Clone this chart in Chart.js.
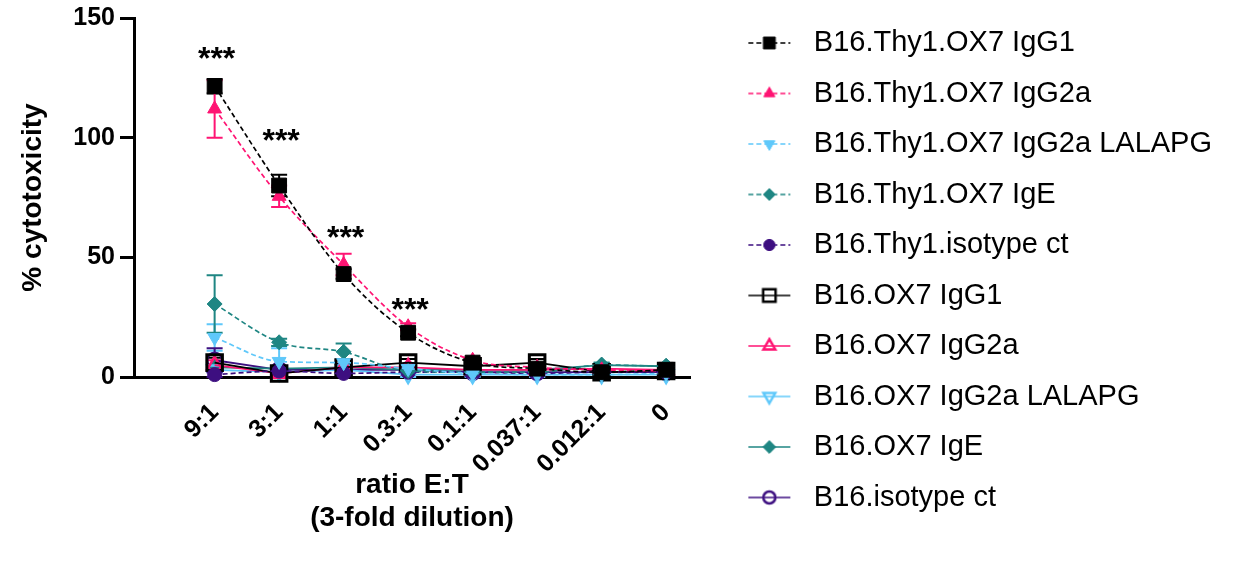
<!DOCTYPE html>
<html>
<head>
<meta charset="utf-8">
<script src="https://cdn.jsdelivr.net/npm/chart.js@4/dist/chart.umd.min.js"></script>
<style>
  html, body { margin: 0; padding: 0; background: #fff; }
  #wrap { width: 1238px; height: 564px; }
</style>
</head>
<body>
<div id="wrap"><canvas id="chart"></canvas></div>
<script>
const categories = ["9:1", "3:1", "1:1", "0.3:1", "0.1:1", "0.037:1", "0.012:1", "0"];

// mean % cytotoxicity and error (SEM) per E:T ratio
const thy1IgG1 = [121.5, 80, 43, 18.5, 6, 3.5, 2, 3];
const thy1IgG1Err = [3, 4.5, 2, 1.5, 1, 1, 1, 1];
const thy1IgG2a = [112, 75.5, 47, 21, 7, 4, 3, 2.5];
const thy1IgG2aErr = [12, 4.5, 4.5, 1.5, 1, 1, 1, 1];
const thy1Lalapg = [16.5, 6.5, 6, 3.5, 1.5, 1, 1, 1.5];
const thy1LalapgErr = [5.5, 5.5, 1.5, 1, 1, 1, 1, 1];
const thy1IgE = [30.5, 14.5, 10.5, 2.5, 2, 2, 5, 4.5];
const thy1IgEErr = [12, 1.5, 3.5, 1, 1, 1, 1, 1];
const thy1Iso = [1, 2.5, 1.5, 2, 2, 1.5, 2, 2];
const thy1IsoErr = [1, 1, 1, 1, 1, 1, 1, 1];
const ox7IgG1 = [6, 1.5, 4, 6, 4.5, 6, 2, 2.5];
const ox7IgG1Err = [2, 1, 1.5, 1.5, 1, 1.5, 1, 1];
const ox7IgG2a = [5, 1.5, 4, 4, 3, 3, 3.5, 3];
const ox7IgG2aErr = [2, 1, 1, 1, 1, 1, 1, 1];
const ox7Lalapg = [3, 2, 3, 1, 1, 1, 1, 1];
const ox7LalapgErr = [1, 1, 1, 1, 1, 1, 1, 1];
const ox7IgE = [4, 3.5, 4, 3, 3, 3, 5, 4.5];
const ox7IgEErr = [1, 1, 1, 1, 1, 1, 1, 1];
const ox7Iso = [7, 3, 3, 3, 2, 2, 2, 2];
const ox7IsoErr = [5, 1, 1, 1, 1, 1, 1, 1];

// significance marks ("***") and the level they sit at
const sigIndex = [0, 1, 2, 3];
const sigLevel = [128.5, 94.5, 54, 24];

const BLACK = "#000000";
const PINK = "#ff1473";
const SKY = "#5fc8fa";
const TEAL = "#1f8683";
const PURPLE = "#3d0f80";
const FONT = "Arial, 'Liberation Sans', Helvetica, sans-serif";

function mark(style, rotation, radius, color, filled, dashed, borderWidth) {
    return { style, rotation, radius, color, filled, dashed, borderWidth };
}

function legendImage(m) {
    const c = document.createElement("canvas");
    c.width = 44;
    c.height = 26;
    const ctx = c.getContext("2d");
    ctx.strokeStyle = m.color;
    ctx.lineWidth = 1.6;
    ctx.setLineDash(m.dashed ? [5, 3] : []);
    ctx.beginPath();
    ctx.moveTo(1, 13);
    ctx.lineTo(43, 13);
    ctx.stroke();
    ctx.setLineDash([]);
    ctx.fillStyle = m.filled ? m.color : "rgba(0,0,0,0)";
    ctx.lineWidth = m.filled ? 1 : 2.5;
    Chart.helpers.drawPoint(ctx, {
        pointStyle: m.style,
        rotation: m.rotation,
        radius: m.radius * 0.8,
        borderWidth: ctx.lineWidth,
    }, 22, 13);
    return c;
}

function series(label, values, errors, m) {
    return {
        label,
        data: values.map((v, i) => ({ x: i, y: v })),
        errors,
        legendImg: legendImage(m),
        borderColor: m.color,
        backgroundColor: m.color,
        borderWidth: m.dashed ? 1.7 : 1.8,
        borderDash: m.dashed ? [5, 3] : [],
        cubicInterpolationMode: m.dashed ? "monotone" : "default",
        tension: 0,
        pointStyle: m.style,
        rotation: m.rotation,
        pointRadius: m.radius,
        pointBorderWidth: m.filled ? 1 : m.borderWidth,
        pointBackgroundColor: m.filled ? m.color : "rgba(0,0,0,0)",
        pointBorderColor: m.color,
        clip: false,
    };
}

const datasets = [
    series("B16.Thy1.OX7 IgG1", thy1IgG1, thy1IgG1Err, mark("rect", 0, 10.5, BLACK, true, true)),
    series("B16.Thy1.OX7 IgG2a", thy1IgG2a, thy1IgG2aErr, mark("triangle", 0, 8, PINK, true, true)),
    series("B16.Thy1.OX7 IgG2a LALAPG", thy1Lalapg, thy1LalapgErr, mark("triangle", 180, 8, SKY, true, true)),
    series("B16.Thy1.OX7 IgE", thy1IgE, thy1IgEErr, mark("rectRot", 0, 7.5, TEAL, true, true)),
    series("B16.Thy1.isotype ct", thy1Iso, thy1IsoErr, mark("circle", 0, 7, PURPLE, true, true)),
    series("B16.OX7 IgG1", ox7IgG1, ox7IgG1Err, mark("rect", 0, 11, BLACK, false, false, 3)),
    series("B16.OX7 IgG2a", ox7IgG2a, ox7IgG2aErr, mark("triangle", 0, 8.5, PINK, false, false, 2.5)),
    series("B16.OX7 IgG2a LALAPG", ox7Lalapg, ox7LalapgErr, mark("triangle", 180, 8.5, SKY, false, false, 2.5)),
    series("B16.OX7 IgE", ox7IgE, ox7IgEErr, mark("rectRot", 0, 8, TEAL, true, false)),
    series("B16.isotype ct", ox7Iso, ox7IsoErr, mark("circle", 0, 7.5, PURPLE, false, false, 2.5)),
];

const errorBars = {
    id: "errorBars",
    beforeDatasetsDraw(chart) {
        const { ctx, scales: { x, y } } = chart;
        ctx.save();
        chart.data.datasets.forEach((ds) => {
            ctx.strokeStyle = ds.borderColor;
            ctx.lineWidth = 2;
            ds.data.forEach((p, i) => {
                const e = ds.errors[i];
                const px = x.getPixelForValue(p.x);
                const top = y.getPixelForValue(p.y + e);
                const bot = y.getPixelForValue(Math.max(p.y - e, 0));
                ctx.beginPath();
                ctx.moveTo(px, top);
                ctx.lineTo(px, bot);
                ctx.moveTo(px - 8, top);
                ctx.lineTo(px + 8, top);
                ctx.moveTo(px - 8, bot);
                ctx.lineTo(px + 8, bot);
                ctx.stroke();
            });
        });
        ctx.restore();
    },
};

const stars = {
    id: "stars",
    afterDatasetsDraw(chart) {
        const { ctx, scales: { x, y } } = chart;
        ctx.save();
        ctx.fillStyle = "#000";
        ctx.font = "bold 32px " + FONT;
        ctx.textAlign = "center";
        ctx.textBaseline = "alphabetic";
        sigIndex.forEach((idx, k) => {
            ctx.fillText("***", x.getPixelForValue(idx) + 2, y.getPixelForValue(sigLevel[k]));
        });
        ctx.restore();
    },
};

new Chart(document.getElementById("chart"), {
    type: "line",
    data: { datasets },
    plugins: [errorBars, stars],
    options: {
        responsive: true,
        maintainAspectRatio: false,
        animation: false,
        layout: { padding: { top: 7, right: 16, bottom: 0, left: 0 } },
        plugins: {
            tooltip: { enabled: false },
            legend: {
                position: "right",
                align: "start",
                maxWidth: 600,
                labels: {
                    usePointStyle: true,
                    pointStyleWidth: 60,
                    padding: 21.5,
                    color: "#000",
                    font: { family: FONT, size: 29 },
                    generateLabels(chart) {
                        const items = Chart.defaults.plugins.legend.labels.generateLabels(chart);
                        items.forEach((it) => {
                            it.pointStyle = chart.data.datasets[it.datasetIndex].legendImg;
                            it.rotation = 0;
                        });
                        return items;
                    },
                },
            },
        },
        scales: {
            x: {
                type: "linear",
                min: -1.25,
                max: 7.37,
                afterBuildTicks(s) {
                    s.ticks = categories.map((c, i) => ({ value: i }));
                },
                afterFit(s) {
                    s.height = 187;
                },
                grid: { display: false, drawTicks: false },
                border: { display: true, color: "#000", width: 3 },
                ticks: {
                    autoSkip: false,
                    minRotation: 45,
                    maxRotation: 45,
                    padding: 21,
                    color: "#000",
                    font: { family: FONT, size: 25, weight: "bold" },
                    callback: (v) => categories[v],
                },
                title: {
                    display: true,
                    text: ["ratio E:T", "(3-fold dilution)"],
                    color: "#000",
                    font: { family: FONT, size: 28, weight: "bold", lineHeight: 1.15 },
                    padding: { top: 0, bottom: 30 },
                },
            },
            y: {
                min: 0,
                max: 150,
                afterFit(s) {
                    s.width = 134;
                },
                grid: {
                    drawOnChartArea: false,
                    drawTicks: true,
                    tickLength: 14,
                    tickWidth: 3,
                    tickColor: "#000",
                },
                border: { display: true, color: "#000", width: 3 },
                ticks: {
                    stepSize: 50,
                    padding: 5,
                    color: "#000",
                    font: { family: FONT, size: 25, weight: "bold", lineHeight: 1.04 },
                },
                title: {
                    display: true,
                    text: "% cytotoxicity",
                    color: "#000",
                    font: { family: FONT, size: 28, weight: "bold" },
                    padding: { top: 16, bottom: 0 },
                },
            },
            yR: {
                position: "right",
                display: true,
                afterFit(s) {
                    const legendLeft = s.chart.width - 16 - (s.chart.legend ? s.chart.legend.width : 500);
                    s.width = Math.max(0, legendLeft - 690);
                },
                grid: { display: false, drawTicks: false },
                border: { display: false },
                ticks: { display: false },
            },
        },
    },
});
</script>
</body>
</html>
